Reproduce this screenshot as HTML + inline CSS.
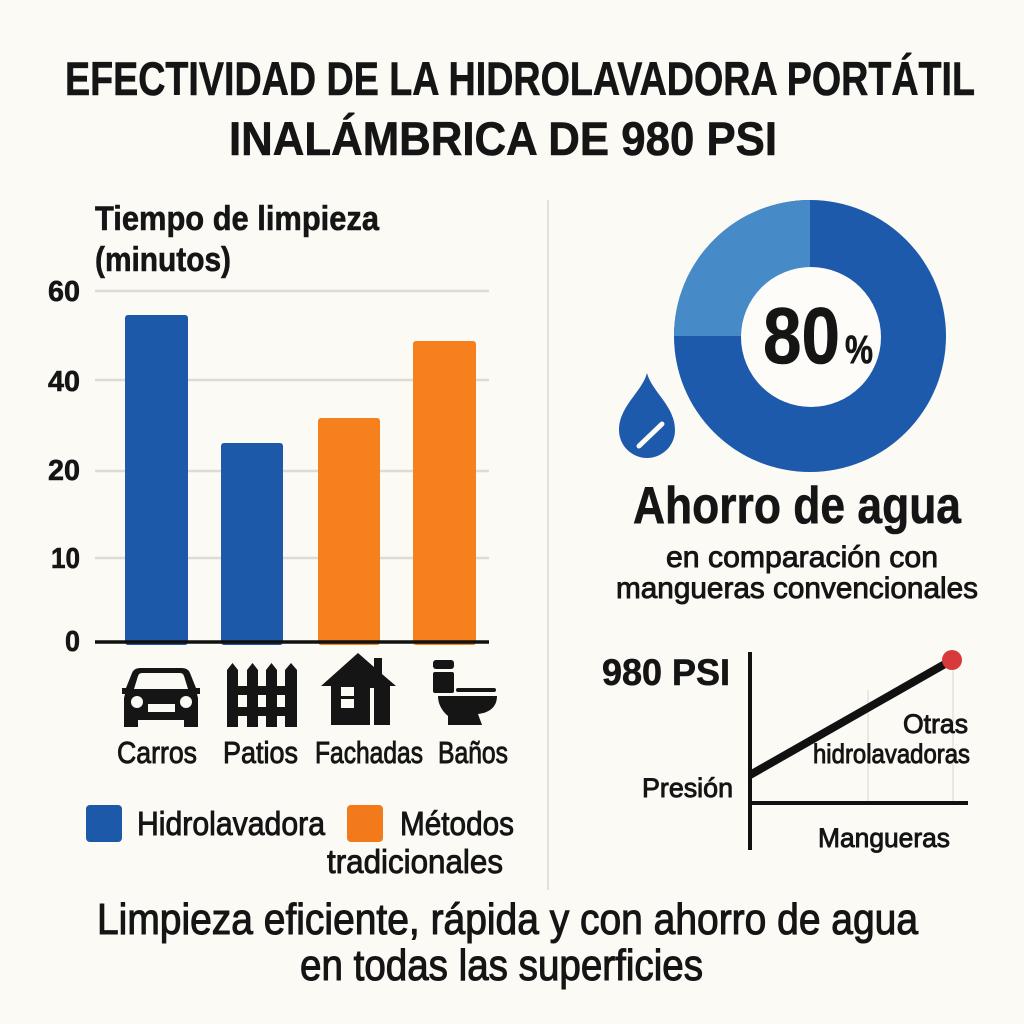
<!DOCTYPE html>
<html>
<head>
<meta charset="utf-8">
<style>
html,body{margin:0;padding:0;background:#fbfaf5;}
svg{display:block;}
text{font-family:"Liberation Sans",sans-serif;fill:#151515;}
.b{font-weight:bold;stroke:#151515;stroke-width:0.6px;}
.m{stroke:#151515;stroke-width:0.9px;}
</style>
</head>
<body>
<svg width="1024" height="1024" viewBox="0 0 1024 1024" xmlns="http://www.w3.org/2000/svg">
<rect width="1024" height="1024" fill="#fbfaf5"/>

<!-- Title -->
<text class="b" x="65" y="95" font-size="47" textLength="910" lengthAdjust="spacingAndGlyphs">EFECTIVIDAD DE LA HIDROLAVADORA PORTÁTIL</text>
<text class="b" x="229" y="155" font-size="47" textLength="548" lengthAdjust="spacingAndGlyphs">INALÁMBRICA DE 980 PSI</text>

<!-- divider -->
<line x1="548" y1="200" x2="548" y2="890" stroke="#e2e0db" stroke-width="2"/>

<!-- Y axis label -->
<text class="b" x="95" y="230" font-size="34" textLength="284" lengthAdjust="spacingAndGlyphs">Tiempo de limpieza</text>
<text class="b" x="95" y="271" font-size="34" textLength="136" lengthAdjust="spacingAndGlyphs">(minutos)</text>

<!-- gridlines -->
<g stroke="#dddbd6" stroke-width="2.5">
<line x1="95" y1="291" x2="489" y2="291"/>
<line x1="95" y1="380" x2="489" y2="380"/>
<line x1="95" y1="471" x2="489" y2="471"/>
<line x1="95" y1="558" x2="489" y2="558"/>
</g>

<!-- tick labels -->
<g font-size="29">
<text class="b" x="48" y="301" textLength="32" lengthAdjust="spacingAndGlyphs">60</text>
<text class="b" x="48" y="391" textLength="32" lengthAdjust="spacingAndGlyphs">40</text>
<text class="b" x="48" y="480" textLength="32" lengthAdjust="spacingAndGlyphs">20</text>
<text class="b" x="51" y="568" textLength="29" lengthAdjust="spacingAndGlyphs">10</text>
<text class="b" x="65" y="651" textLength="15" lengthAdjust="spacingAndGlyphs">0</text>
</g>

<!-- bars -->
<rect x="125" y="315" width="63" height="330" rx="3" fill="#1c59a9"/>
<rect x="221" y="443" width="62" height="202" rx="3" fill="#1c59a9"/>
<rect x="318" y="418" width="62" height="227" rx="3" fill="#f67f1e"/>
<rect x="413" y="341" width="63" height="304" rx="3" fill="#f67f1e"/>
<line x1="95" y1="642" x2="489" y2="642" stroke="#111" stroke-width="3.5"/>

<!-- icons -->
<g fill="#151515">
<!-- car -->
<path d="M140 668 L182 668 Q188 668 190 673 L196 688 L200 688 L200 694 L197 694 L198 698 L198 727 L184 727 L184 720 L138 720 L138 727 L124 727 L124 698 L125 694 L122 694 L122 688 L126 688 L132 673 Q134 668 140 668 Z"/>
<path d="M142 673 L180 673 Q183 673 184 676 L188 689 L134 689 L138 676 Q139 673 142 673 Z" fill="#fbfaf5"/>
<circle cx="137" cy="702" r="6" fill="#fbfaf5"/>
<circle cx="186" cy="702" r="6" fill="#fbfaf5"/>
<rect x="148" y="704" width="27" height="8" fill="#fbfaf5"/>
<!-- fence -->
<path d="M227 727 L227 670 L232.5 663 L238 670 L238 727 Z"/>
<path d="M247 727 L247 670 L252.5 663 L258 670 L258 727 Z"/>
<path d="M266 727 L266 670 L271.5 663 L277 670 L277 727 Z"/>
<path d="M285 727 L285 670 L291 663 L297 670 L297 727 Z"/>
<rect x="227" y="686" width="70" height="9"/>
<rect x="227" y="707" width="70" height="9"/>
<!-- house -->
<path d="M358 653 L374 667 L374 658 L382 658 L382 674 L396 686 L390 686 L390 725 L374 725 L374 688 L370 688 L370 725 L331 725 L331 686 L321 686 Z"/>
<rect x="341" y="687" width="13" height="9" fill="#fbfaf5"/>
<rect x="341" y="699" width="13" height="9" fill="#fbfaf5"/>
<!-- toilet -->
<rect x="433" y="660" width="21" height="9" rx="3"/>
<rect x="433" y="672" width="21" height="21" rx="2"/>
<rect x="456" y="688" width="40" height="4" rx="2"/>
<path d="M438 696 L497 696 C497 708 488 713 478 714 L482 725 L448 725 L448 716 C441 710 438 703 438 696 Z"/>
</g>

<!-- category labels -->
<g font-size="31">
<text class="m" x="117" y="763" textLength="80" lengthAdjust="spacingAndGlyphs">Carros</text>
<text class="m" x="223" y="763" textLength="75" lengthAdjust="spacingAndGlyphs">Patios</text>
<text class="m" x="315" y="763" textLength="108" lengthAdjust="spacingAndGlyphs">Fachadas</text>
<text class="m" x="438" y="763" textLength="70" lengthAdjust="spacingAndGlyphs">Baños</text>
</g>

<!-- legend -->
<rect x="86" y="805" width="36" height="37" rx="4" fill="#1c59a9"/>
<rect x="347" y="805" width="36" height="37" rx="4" fill="#f27a1a"/>
<g font-size="33">
<text class="m" x="137" y="835" textLength="188" lengthAdjust="spacingAndGlyphs">Hidrolavadora</text>
<text class="m" x="400" y="835" textLength="114" lengthAdjust="spacingAndGlyphs">Métodos</text>
<text class="m" x="327" y="873" textLength="176" lengthAdjust="spacingAndGlyphs">tradicionales</text>
</g>

<!-- donut -->
<circle cx="810" cy="336" r="136" fill="#1d5aab"/>
<path d="M674 336 A136 136 0 0 1 810 200 L810 336 Z" fill="#468ac8"/>
<circle cx="811" cy="337" r="70" fill="#fdfcf8"/>
<text class="b" x="763" y="363" font-size="80" textLength="77" lengthAdjust="spacingAndGlyphs">80</text>
<text class="b" x="845" y="363" font-size="40" textLength="28" lengthAdjust="spacingAndGlyphs">%</text>

<!-- drop -->
<path d="M647 373 C652 392 675 406 675 430 A28 28 0 0 1 619 430 C619 406 642 392 647 373 Z" fill="#1d5aab"/>
<line x1="639" y1="446" x2="662" y2="424" stroke="#fbfaf5" stroke-width="5" stroke-linecap="round"/>

<!-- Ahorro -->
<text class="b" x="633" y="523" font-size="52" textLength="328" lengthAdjust="spacingAndGlyphs">Ahorro de agua</text>
<text class="m" x="666" y="567" font-size="30" textLength="272" lengthAdjust="spacingAndGlyphs">en comparación con</text>
<text class="m" x="616" y="598" font-size="30" textLength="362" lengthAdjust="spacingAndGlyphs">mangueras convencionales</text>

<!-- line chart -->
<g stroke="#e4e2dd" stroke-width="1.5">
<line x1="868" y1="690" x2="868" y2="803"/>
<line x1="953" y1="665" x2="953" y2="803"/>
</g>
<line x1="750" y1="652" x2="750" y2="850" stroke="#111" stroke-width="4"/>
<line x1="750" y1="803" x2="968" y2="803" stroke="#111" stroke-width="4"/>
<line x1="750" y1="775" x2="952" y2="660" stroke="#111" stroke-width="8"/>
<circle cx="952" cy="660" r="10" fill="#d63a3a"/>
<text class="b" x="602" y="685" font-size="37" textLength="128" lengthAdjust="spacingAndGlyphs">980 PSI</text>
<text class="m" x="903" y="733" font-size="27" textLength="65" lengthAdjust="spacingAndGlyphs">Otras</text>
<text class="m" x="813" y="763" font-size="27" textLength="157" lengthAdjust="spacingAndGlyphs">hidrolavadoras</text>
<text class="m" x="642" y="797" font-size="27" textLength="91" lengthAdjust="spacingAndGlyphs">Presión</text>
<text class="m" x="818" y="847" font-size="27" textLength="132" lengthAdjust="spacingAndGlyphs">Mangueras</text>

<!-- bottom -->
<text class="m" x="97" y="934" font-size="44" textLength="821" lengthAdjust="spacingAndGlyphs" style="stroke-width:1.1px">Limpieza eficiente, rápida y con ahorro de agua</text>
<text class="m" x="300" y="980" font-size="44" textLength="403" lengthAdjust="spacingAndGlyphs" style="stroke-width:1.1px">en todas las superficies</text>
</svg>
</body>
</html>
